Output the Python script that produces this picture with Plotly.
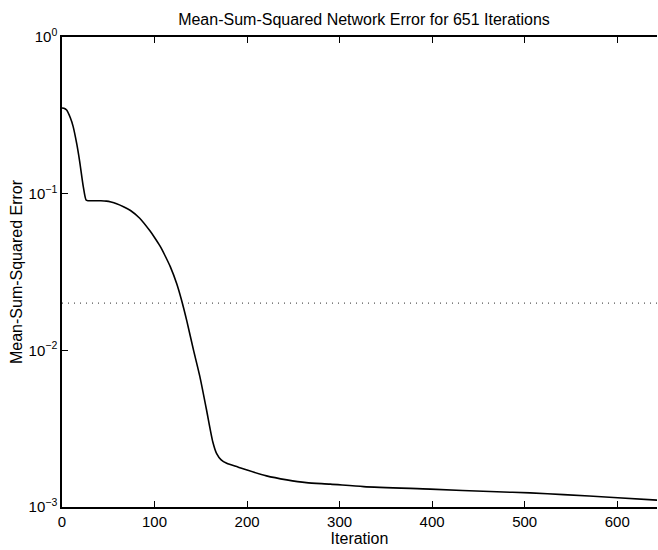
import math
import plotly.graph_objects as go

# Data
iterations = [0, 2, 5, 9, 12, 16, 19, 23, 26, 28, 35, 42, 48, 53, 59, 67, 74, 84, 95, 100,
              106, 111, 117, 124, 129, 135, 142, 149, 156, 163, 167, 172, 178, 190,
              200, 221, 243, 264, 290, 326, 398, 470, 506, 542, 596, 650]
mse = [0.352, 0.351, 0.342, 0.305, 0.269, 0.207, 0.162, 0.111, 0.0912, 0.0902, 0.0902,
       0.0901, 0.0896, 0.0884, 0.0862, 0.0822, 0.0781, 0.0697, 0.0579, 0.0525,
       0.0462, 0.0406, 0.0342, 0.0266, 0.0211, 0.0153, 0.0101, 0.00679,
       0.00422, 0.0026, 0.0022, 0.0020, 0.0019, 0.0018, 0.00172, 0.00158, 0.00149,
       0.00143, 0.0014, 0.00135, 0.0013, 0.00125, 0.00123, 0.0012, 0.00115, 0.0011]
goal_x = [0, 650]
goal_y = [0.02, 0.02]
x_ticks = [0, 100, 200, 300, 400, 500, 600]
y_ticks = [0.001, 0.01, 0.1, 1]
y_tick_text = ["10<sup>−3</sup>", "10<sup>−2</sup>", "10<sup>−1</sup>", "10<sup>0</sup>"]

title_text = "Mean-Sum-Squared Network Error for 651 Iterations"
x_title = "Iteration"
y_title = "Mean-Sum-Squared Error"

FONT = "Liberation Sans, Arial, Helvetica, sans-serif"

minor_vals = [k * 10.0 ** e for e in (-3, -2, -1) for k in range(2, 10)]

fig = go.Figure()
fig.add_trace(go.Scatter(x=goal_x, y=goal_y, mode="lines",
                         line=dict(color="#555555", width=1.2, dash="1px,5px"),
                         hoverinfo="skip", showlegend=False))
fig.add_trace(go.Scatter(x=iterations, y=mse, mode="lines",
                         line=dict(color="black", width=1.6, shape="spline", smoothing=0.7),
                         showlegend=False))

# minor log ticks on the left axis (shape coordinates on a log axis are log10 values)
for v in minor_vals:
    lv = math.log10(v)
    fig.add_shape(type="line", xref="paper", yref="y", x0=0, x1=0.007, y0=lv, y1=lv,
                  line=dict(color="black", width=1), layer="above")

fig.update_layout(
    width=658, height=550,
    margin=dict(l=62, r=1, t=37, b=43),
    paper_bgcolor="white", plot_bgcolor="white",
    font=dict(family=FONT, size=15, color="black"),
    title=dict(text=title_text, x=364/658, xanchor="center", y=1 - 19/550, yanchor="middle",
               font=dict(size=16, family=FONT, color="black")),
    showlegend=False,
)
fig.update_xaxes(
    range=[0, 643], tickvals=x_ticks, ticks="inside", ticklen=6, tickwidth=1.2,
    tickcolor="black", showline=True, linecolor="black", linewidth=1.5,
    mirror="ticks", showgrid=False, zeroline=False,
    title=dict(text=x_title, standoff=0, font=dict(size=16)),
    tickfont=dict(size=15),
)
fig.update_yaxes(
    type="log", range=[-3, 0], tickvals=y_ticks, ticktext=y_tick_text,
    ticks="inside", ticklen=6, tickwidth=1.2, tickcolor="black",
    showline=True, linecolor="black", linewidth=1.5, mirror=False,
    showgrid=False, zeroline=False,
    title=dict(text=y_title, standoff=2, font=dict(size=16)),
    tickfont=dict(size=15),
)

fig.write_html("out.html")
